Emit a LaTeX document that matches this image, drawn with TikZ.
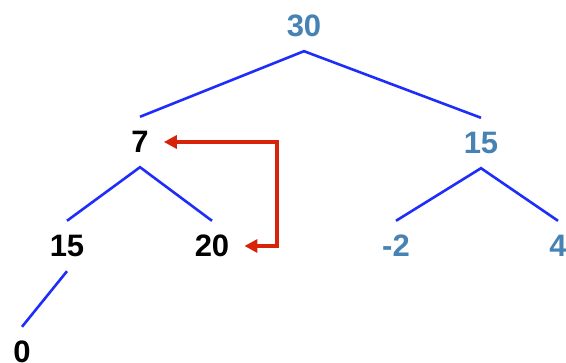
\documentclass[tikz,border=0pt]{standalone}
\usepackage{fontspec}
\setmainfont{Liberation Sans}
\usepackage{xcolor}
\usepackage{tikz}
\usetikzlibrary{arrows.meta}

\definecolor{keyblue}{RGB}{70,130,180}
\definecolor{edgeblue}{RGB}{30,45,250}
\definecolor{swapred}{RGB}{215,35,10}

\begin{document}
\begin{tikzpicture}[x=1pt, y=-1pt,
    key/.style={font=\fontsize{31}{31}\selectfont\bfseries, minimum height=50pt, inner xsep=15pt, inner ysep=0pt},
    done/.style={key, text=keyblue},
    edge/.style={edgeblue, line width=2.6pt},
    swap/.style={swapred, line width=3.5pt, {Triangle[length=13pt,width=13pt]}-{Triangle[length=13pt,width=13pt]}}]
    \useasboundingbox (0,0) rectangle (566,363);

    \node[done] (n30) at (304,26) {30};
    \node[key]  (n7)  at (140,142) {7};
    \node[done] (n15r) at (481,143) {15};
    \node[key]  (n15) at (67,246) {15};
    \node[key]  (n20) at (212,246) {20};
    \node[done] (nm2) at (396,246) {-2};
    \node[done] (n4)  at (558,246) {4};
    \node[key]  (n0)  at (22,352) {0};

    \draw[edge] (n7.north) -- (n30.south) -- (n15r.north);
    \draw[edge] (n15.north) -- (n7.south) -- (n20.north);
    \draw[edge] (nm2.north) -- (n15r.south) -- (n4.north);
    \draw[edge] (n15.south) -- (n0.north);

    \draw[swap] (n7.east) -- ++(113,0) |- (n20.east);
\end{tikzpicture}
\end{document}
